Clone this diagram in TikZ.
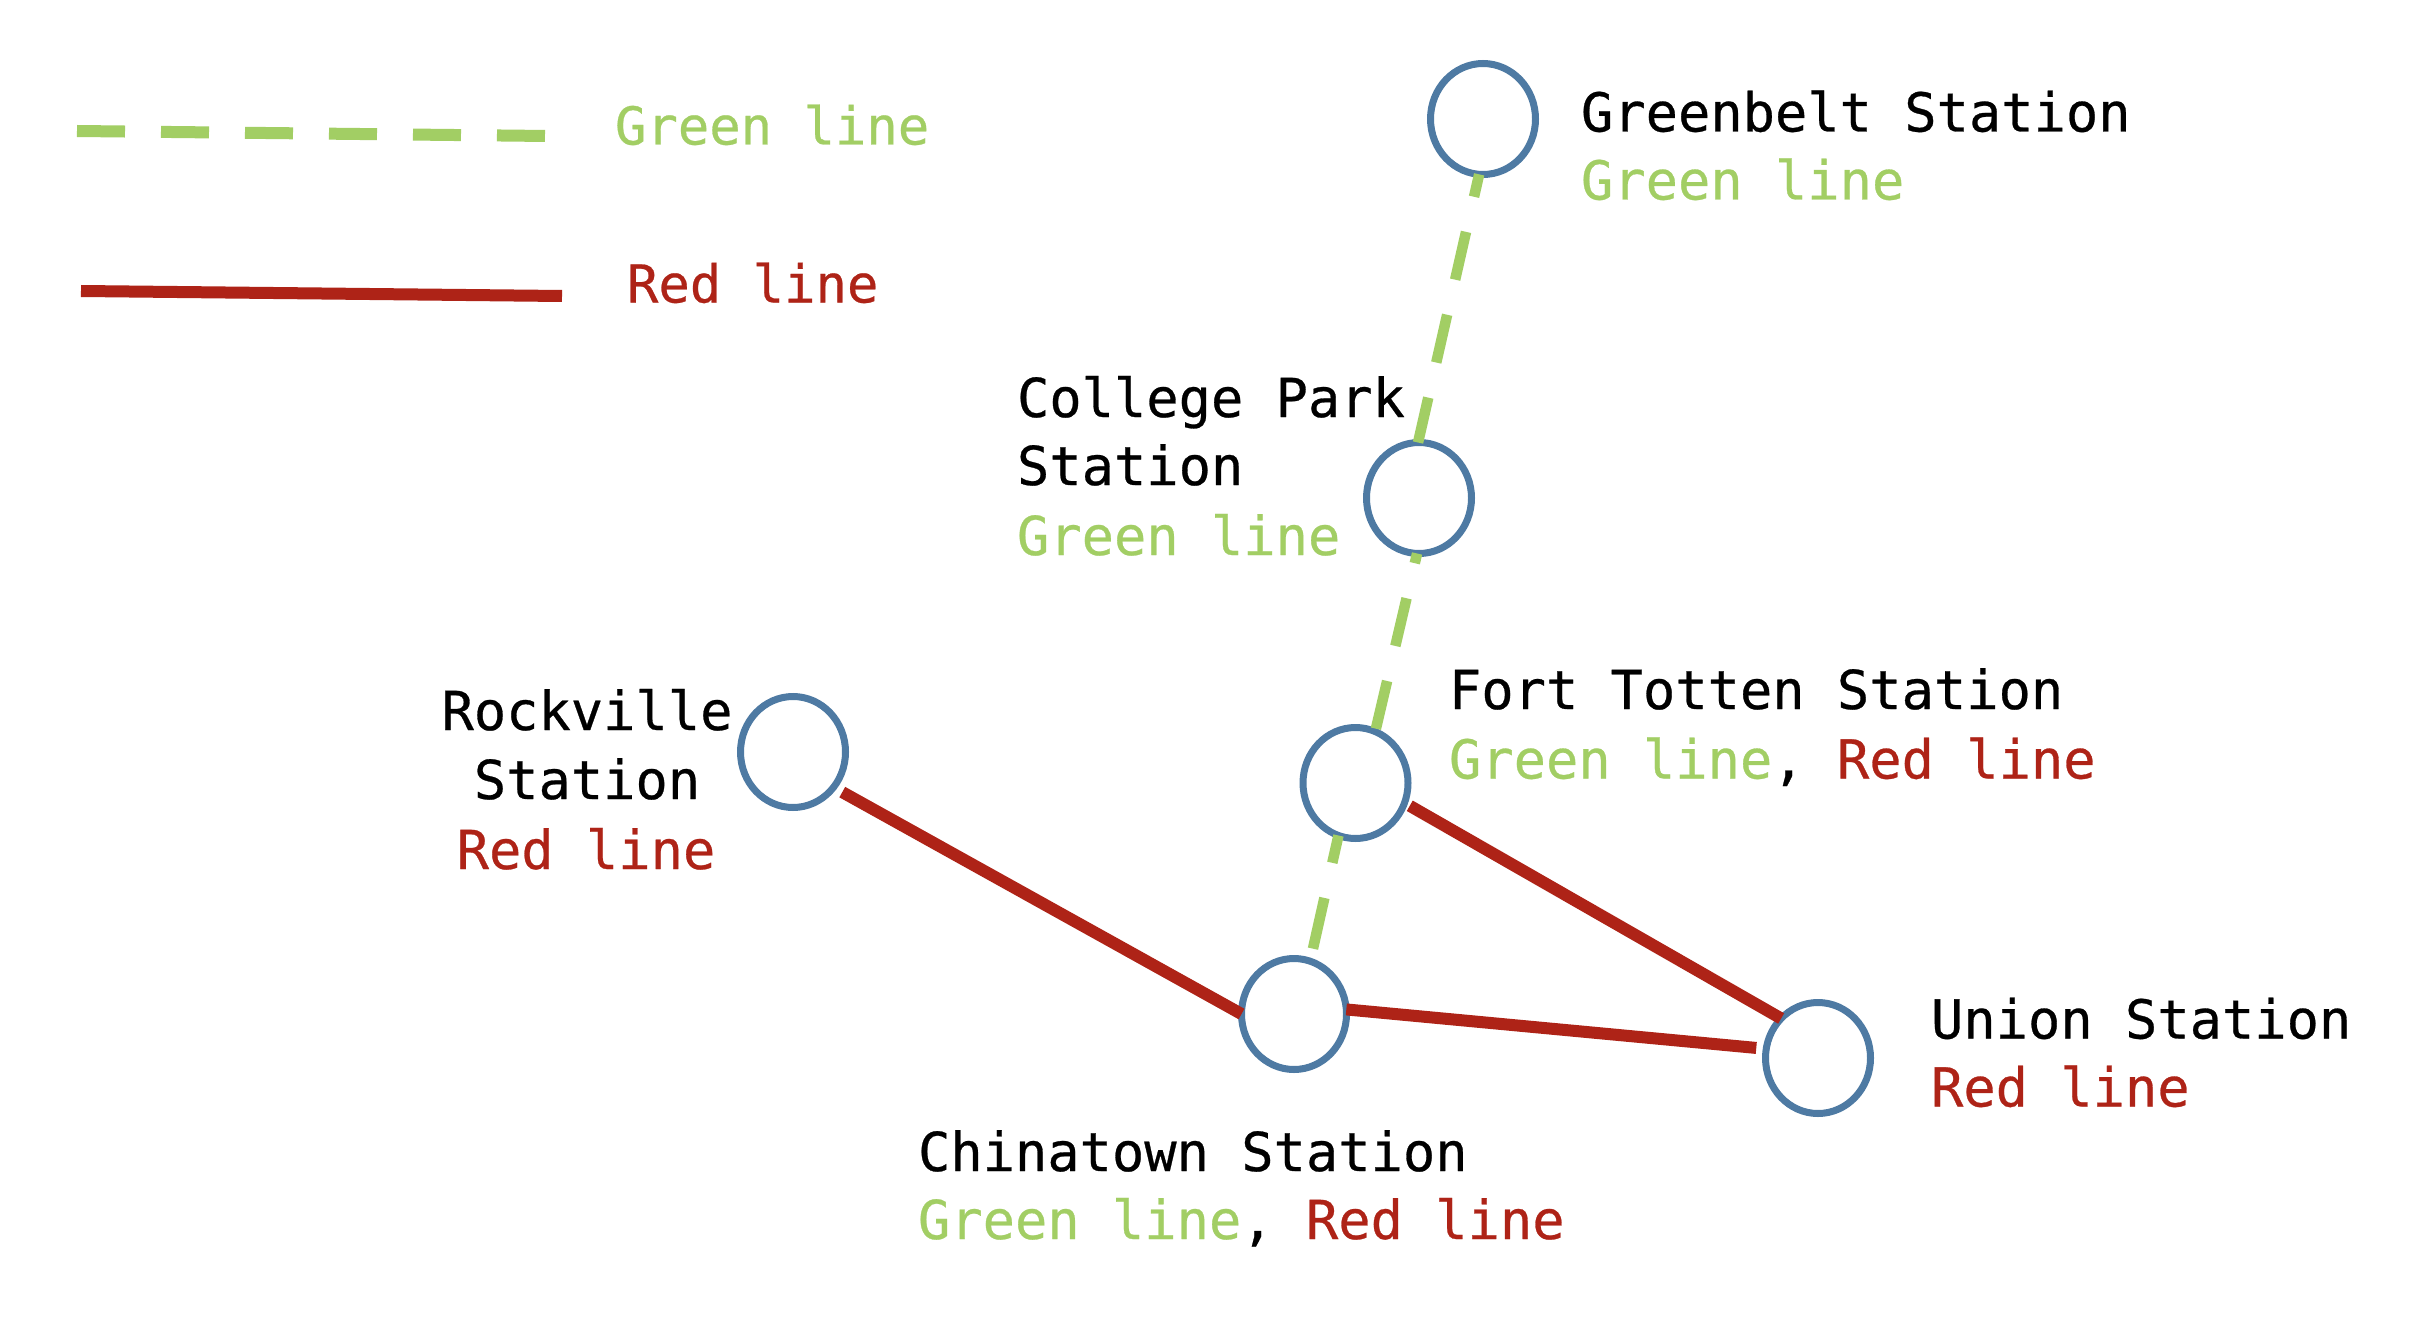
\documentclass[tikz,border=0pt]{standalone}
\usepackage{fontspec}
\setmonofont[FakeBold=0.5]{DejaVu Sans Mono}
\usetikzlibrary{shapes.geometric}
\definecolor{gl}{HTML}{A2CE64}
\definecolor{rl}{HTML}{AE2317}
\definecolor{st}{HTML}{4E7AA3}
\newcommand{\gline}{\textcolor{gl}{Green line}}
\newcommand{\rline}{\textcolor{rl}{Red line}}
\tikzset{
  station/.style={ellipse,draw=st,line width=7pt,fill=white,inner sep=0pt,outer sep=0pt,minimum width=105pt,minimum height=111pt},
  lbl/.style={inner sep=0pt,outer sep=0pt,anchor=base west,align=left,font=\ttfamily\fontsize{53.7}{69}\selectfont},
  keylbl/.style={lbl,font=\ttfamily\fontsize{52.2}{69}\selectfont},
  greenline/.style={draw=gl,line width=10.5pt,dash pattern=on 49pt off 36pt},
  redline/.style={draw=rl,line width=12pt},
  greenkey/.style={draw=gl,line width=12pt,dash pattern=on 48pt off 36pt},
  redkey/.style={draw=rl,line width=12pt}
}
\begin{document}
\begin{tikzpicture}[x=1pt,y=-1pt]
\path[use as bounding box,fill=white] (0,0) rectangle (2420,1340);
% legend
\coordinate (g1) at (77,131); \coordinate (g2) at (548,136);
\coordinate (r1) at (81,291); \coordinate (r2) at (562,296);
\draw[greenkey] (g1) -- (g2);
\draw[redkey] (r1) -- (r2);
\node[keylbl] (kg) at (615,144.5) {\gline};
\node[keylbl] (kr) at (627,302.5) {\rline};
% stations
\node[station] (greenbelt) at (1483,119) {};
\node[station] (college) at (1419,498) {};
\node[station] (fort) at (1355.5,783) {};
\node[station] (china) at (1294,1014) {};
\node[station] (union) at (1818,1058) {};
\node[station] (rock) at (793,752) {};
% connectors
\draw[greenline,dash phase=26pt] (greenbelt.266) -- (college.91);
\draw[greenline,dash phase=39pt] (college.268) -- (fort.69);
\draw[greenline,dash pattern=on 52pt off 36pt,dash phase=24pt,shorten >=1pt] (fort.252) -- (china.73);
\draw[redline,shorten <=10pt] (rock.-41) -- (china.west);
\draw[redline,shorten <=6pt] (fort.-22) -- (union.133);
\draw[redline,shorten >=10pt] (china.5) -- (union.170);
% labels
\node[lbl] (l1a) at (1581,131.5) {Greenbelt Station};
\node[lbl] (l1b) at (1581,199.5) {\gline};
\node[lbl] (l2a) at (1017,417) {College Park};
\node[lbl] (l2b) at (1017,485) {Station};
\node[lbl] (l2c) at (1017,555) {\gline};
\node[lbl] (l3a) at (1449,709) {Fort Totten Station};
\node[lbl] (l3b) at (1449,778.5) {\gline, \rline};
\node[lbl] (l4a) at (1931,1038.5) {Union Station};
\node[lbl] (l4b) at (1931,1106.5) {\rline};
\node[lbl] (l5a) at (918,1171) {Chinatown Station};
\node[lbl] (l5b) at (918,1239) {\gline, \rline};
\node[lbl,anchor=base] (l6a) at (587,730) {Rockville};
\node[lbl,anchor=base] (l6b) at (587,799) {Station};
\node[lbl,anchor=base] (l6c) at (586,869) {\rline};
\end{tikzpicture}
\end{document}
